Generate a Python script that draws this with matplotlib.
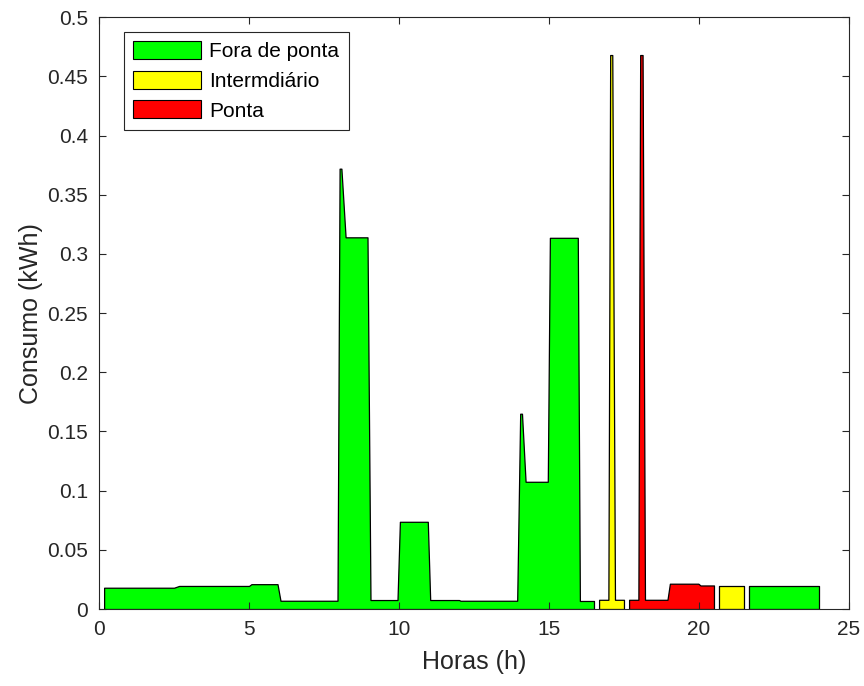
import numpy as np
import matplotlib.pyplot as plt
from matplotlib.patches import Patch

plt.rcParams['font.family'] = ['Liberation Sans', 'DejaVu Sans']

# hourly consumption profile, one block per tariff period
fora1_h = [0.17, 2.5, 2.67, 5.0, 5.08, 5.95, 6.05, 7.95, 8.02, 8.08, 8.22, 8.95, 9.05,
           9.95, 10.03, 10.96, 11.04, 12.0, 12.05, 13.94, 14.04, 14.1, 14.22, 14.96,
           15.03, 15.96, 16.03, 16.5]
fora1_kwh = [0.018, 0.018, 0.0195, 0.0195, 0.021, 0.021, 0.007, 0.007, 0.372, 0.372,
             0.314, 0.314, 0.0076, 0.0076, 0.0737, 0.0737, 0.0076, 0.0076, 0.007, 0.007,
             0.165, 0.165, 0.1075, 0.1075, 0.3136, 0.3136, 0.0068, 0.0068]

inter1_h = [16.67, 16.98, 17.04, 17.11, 17.2, 17.5]
inter1_kwh = [0.0078, 0.0078, 0.468, 0.468, 0.0078, 0.0078]

ponta_h = [17.67, 17.98, 18.04, 18.12, 18.2, 18.95, 19.03, 19.98, 20.05, 20.5]
ponta_kwh = [0.0078, 0.0078, 0.468, 0.468, 0.0078, 0.0078, 0.0214, 0.0214, 0.0199, 0.0199]

inter2_h = [20.67, 21.5]
inter2_kwh = [0.0194, 0.0194]

fora2_h = [21.67, 24.0]
fora2_kwh = [0.0194, 0.0194]

labels = ['Fora de ponta', 'Intermdiário', 'Ponta']
colors = ['#00ff00', '#ffff00', '#ff0000']

fig = plt.figure(figsize=(8.64, 6.86), dpi=100)
ax = fig.add_axes([0.1146, 0.1122, 0.868, 0.8628])

blocks = [(fora1_h, fora1_kwh, colors[0]),
          (inter1_h, inter1_kwh, colors[1]),
          (ponta_h, ponta_kwh, colors[2]),
          (inter2_h, inter2_kwh, colors[1]),
          (fora2_h, fora2_kwh, colors[0])]
for h, kwh, c in blocks:
    ax.fill_between(h, kwh, 0, facecolor=c, edgecolor='black', linewidth=0.9)

ax.set_xlim(0, 25)
ax.set_ylim(0, 0.5)
ax.set_xticks(np.arange(0, 26, 5))
yt = np.round(np.arange(0, 0.501, 0.05), 2)
ax.set_yticks(yt)
ax.set_yticklabels(['%g' % v for v in yt])
ax.tick_params(direction='in', length=5, width=0.8, top=True, right=True,
               labelsize=15, colors='#262626', pad=8)
for s in ax.spines.values():
    s.set_color('#262626')
    s.set_linewidth(0.8)

ax.set_xlabel('Horas (h)', fontsize=18, color='#262626', labelpad=8)
ax.set_ylabel('Consumo (kWh)', fontsize=18, color='#262626', labelpad=3)

handles = [Patch(facecolor=c, edgecolor='black', linewidth=0.8) for c in colors]
leg = ax.legend(handles, labels, loc='upper left', bbox_to_anchor=(0.033, 0.975),
                fontsize=15, handlelength=3.25, handleheight=0.95, handletextpad=0.4,
                labelspacing=0.45, borderpad=0.45, borderaxespad=0, fancybox=False,
                framealpha=1, edgecolor='#262626')
leg.get_frame().set_linewidth(0.8)

fig.savefig('out.png', dpi=100)
